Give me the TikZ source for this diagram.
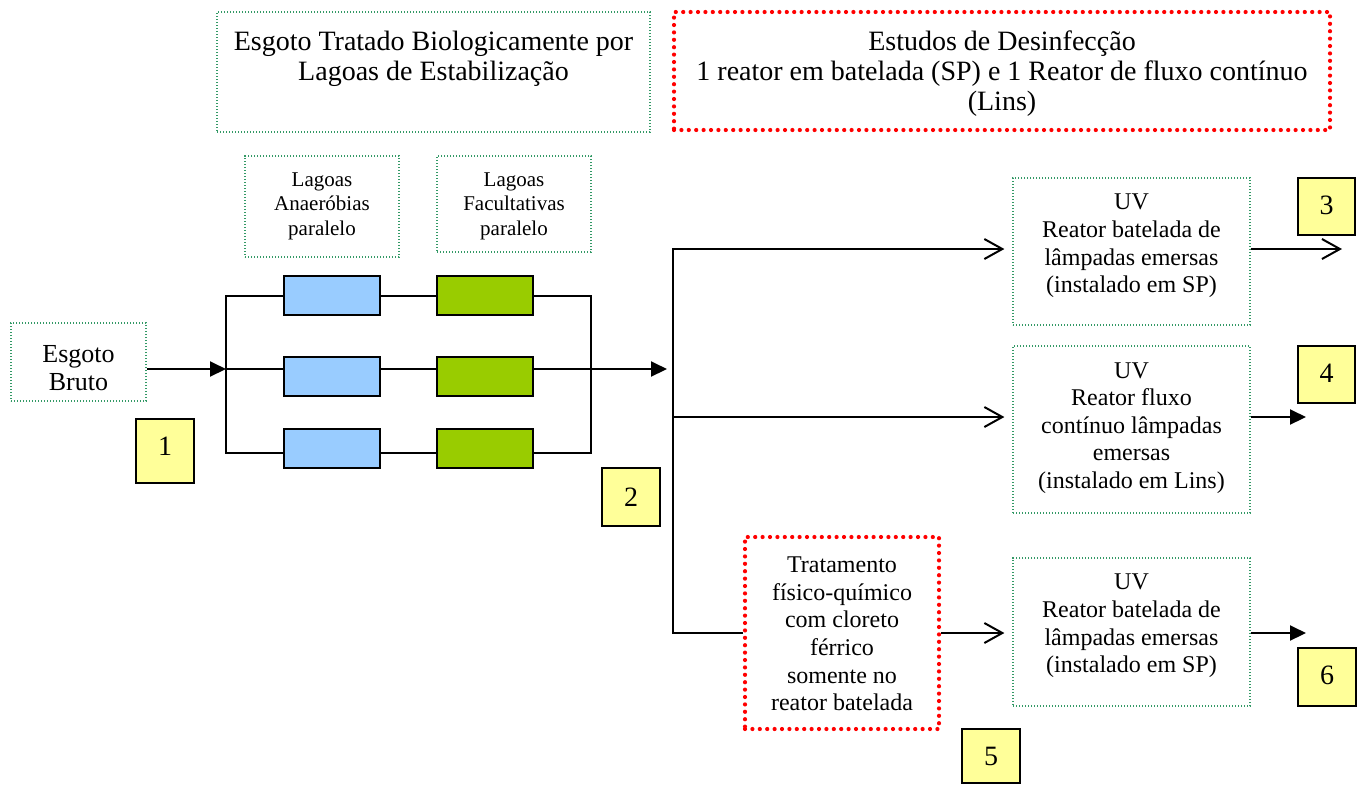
\documentclass[tikz,border=0pt]{standalone}
\usepackage{fontspec}
\setmainfont{Liberation Serif}
\usetikzlibrary{arrows.meta,fit}
\definecolor{dotgreen}{RGB}{51,153,102}
\definecolor{pondblue}{HTML}{99CCFF}
\definecolor{pondgreen}{HTML}{99CC00}
\definecolor{notey}{HTML}{FFFF99}
\begin{document}
\begin{tikzpicture}[x=0.5pt,y=-0.5pt,
  gbox/.style={draw=dotgreen, line width=0.6pt, dash pattern=on 0.6pt off 0.9pt, inner sep=0pt},
  rbox/.style={draw=red, line width=2.1pt, line cap=round, dash pattern=on 0pt off 3.7pt, inner sep=0pt},
  pond/.style={draw=black, line width=0.9pt, inner sep=0pt},
  ybox/.style={draw=black, fill=notey, line width=1pt, inner sep=0pt},
  bigtxt/.style={font=\fontsize{14}{15}\selectfont, align=center, inner sep=0pt},
  midtxt/.style={font=\fontsize{12}{13.8}\selectfont, align=center, inner sep=0pt},
  rawtxt/.style={font=\fontsize{13}{14}\selectfont, align=center, inner sep=0pt},
  smalltxt/.style={font=\fontsize{10.5}{12.25}\selectfont, align=center, inner sep=0pt},
  numtxt/.style={font=\fontsize{14}{16}\selectfont, inner sep=0pt},
  wire/.style={draw=black, line width=0.8pt},
  trunk/.style={draw=black, line width=1pt},
  fillarrow/.style={trunk, -{Triangle[length=8pt,width=7.5pt]}},
  openarrow/.style={trunk, -{Straight Barb[length=9pt,width=10pt]}}]
\useasboundingbox (0,0) rectangle (1360,784);

% headings
\node[gbox, fit={(217,12) (650,132)}] (biobox) {};
\node[bigtxt] (biotxt) at (433.5,59) {Esgoto Tratado Biologicamente por\\Lagoas de Estabilização};
\node[rbox, fit={(674,12) (1330,130)}] (disbox) {};
\node[bigtxt] (distxt) at (1002,74) {Estudos de Desinfecção\\1 reator em batelada (SP) e 1 Reator de fluxo contínuo\\(Lins)};

% pond labels
\node[gbox, fit={(245,156) (399,257)}] (anabox) {};
\node[smalltxt] (anatxt) at (322,206) {Lagoas\\Anaeróbias\\paralelo};
\node[gbox, fit={(437,156) (591,252)}] (facbox) {};
\node[smalltxt] (factxt) at (514,206) {Lagoas\\Facultativas\\paralelo};

% raw sewage
\node[gbox, fit={(11,323) (146,401)}] (rawbox) {};
\node[rawtxt] (rawlbl) at (78.5,368) {Esgoto\\Bruto};

% ponds in parallel
\node[pond, fill=pondblue, fit={(284,276) (380,315)}] (a1) {};
\node[pond, fill=pondblue, fit={(284,357) (380,396)}] (a2) {};
\node[pond, fill=pondblue, fit={(284,429) (380,468)}] (a3) {};
\node[pond, fill=pondgreen, fit={(437,276) (533,315)}] (f1) {};
\node[pond, fill=pondgreen, fit={(437,357) (533,396)}] (f2) {};
\node[pond, fill=pondgreen, fit={(437,429) (533,468)}] (f3) {};

% disinfection units
\node[gbox, fit={(1013,178) (1250,325)}] (uv1) {};
\node[midtxt] (uv1txt) at (1131.5,246) {UV\\Reator batelada de\\lâmpadas emersas\\(instalado em SP)};
\node[gbox, fit={(1013,346) (1250,513)}] (uv2) {};
\node[midtxt] (uv2txt) at (1131.5,428) {UV\\Reator fluxo\\contínuo lâmpadas\\emersas\\(instalado em Lins)};
\node[gbox, fit={(1013,558) (1250,706)}] (uv3) {};
\node[midtxt] (uv3txt) at (1131.5,626) {UV\\Reator batelada de\\lâmpadas emersas\\(instalado em SP)};
\node[rbox, fit={(745,537) (939,729)}] (chem) {};
\node[midtxt] (chemtxt) at (842,634) {Tratamento\\físico-químico\\com cloreto\\férrico\\somente no\\reator batelada};

% sampling points
\node[ybox, fit={(136,419) (194,483)}] (p1) {};
\node[numtxt] (p1t) at (165,446) {1};
\node[ybox, fit={(602,468) (660,526)}] (p2) {};
\node[numtxt] (p2t) at (631,497) {2};
\node[ybox, fit={(1298,178) (1355,235)}] (p3) {};
\node[numtxt] (p3t) at (1326.5,205) {3};
\node[ybox, fit={(1298,346) (1355,403)}] (p4) {};
\node[numtxt] (p4t) at (1326.5,373) {4};
\node[ybox, fit={(962,729) (1020,783)}] (p5) {};
\node[numtxt] (p5t) at (991,756) {5};
\node[ybox, fit={(1298,648) (1356,706)}] (p6) {};
\node[numtxt] (p6t) at (1327,675) {6};

% junction points
\coordinate (lt) at (226,296);
\coordinate (lm) at (226,369);
\coordinate (lb) at (226,453);
\coordinate (rt) at (591,296);
\coordinate (rb) at (591,453);
\coordinate (outlet) at (667,369);
\coordinate (tt) at (673,249);
\coordinate (tm) at (673,417);
\coordinate (tb) at (673,633);
\coordinate (o3) at (1342,249);
\coordinate (o4) at (1306,417);
\coordinate (o6) at (1306,633);

% pond piping
\draw[wire] (a1.west |- lt) -- (lt) -- (lb) -- (a3.west |- lb);
\draw[wire] (a1.east |- lt) -- (f1.west |- lt);
\draw[wire] (f1.east |- rt) -- (rt) -- (rb) -- (f3.east |- rb);
\draw[wire] (a3.east |- lb) -- (f3.west |- lb);
\draw[fillarrow] (rawbox.east |- lm) -- (lm);
\draw[trunk] (lm) -- (a2.west |- lm);
\draw[trunk] (a2.east |- lm) -- (f2.west |- lm);
\draw[fillarrow] (f2.east |- lm) -- (outlet);

% distribution to the reactors
\draw[openarrow, shorten >=4pt] (chem.west |- tb) -- (tb) -- (tt) -- (uv1.west |- tt);
\draw[openarrow, shorten >=4pt] (tm) -- (uv2.west |- tm);
\draw[openarrow, shorten >=4pt] (chem.east |- tb) -- (uv3.west |- tb);
\draw[openarrow] (uv1.east |- tt) -- (o3);
\draw[fillarrow] (uv2.east |- tm) -- (o4);
\draw[fillarrow] (uv3.east |- tb) -- (o6);
\end{tikzpicture}
\end{document}
